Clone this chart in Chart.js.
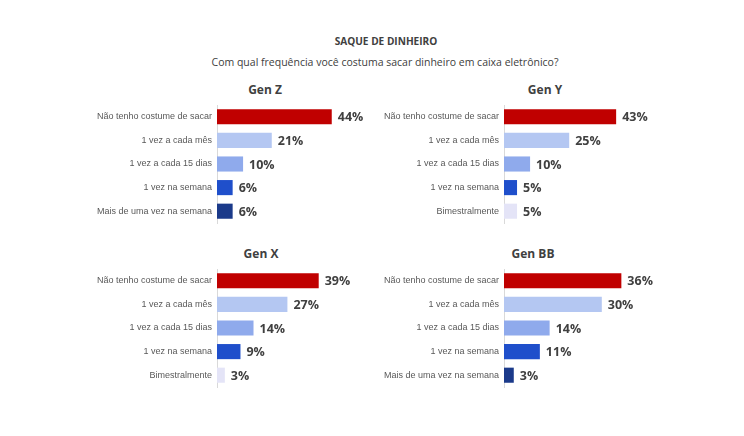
<!DOCTYPE html>
<html>
<head>
<meta charset="utf-8">
<script src="https://cdn.jsdelivr.net/npm/chart.js@4.4.0/dist/chart.umd.min.js"></script>
<style>
  body { margin: 0; background: #fff; width: 744px; height: 436px; position: relative; overflow: hidden; font-family: 'Open Sans', sans-serif; color: #404040; }
  .txt { position: absolute; transform: translate(-50%, -50%); white-space: nowrap; }
  .main { font-weight: bold; font-size: 10.1px; }
  .sub { font-size: 10.5px; }
  .gen { font-weight: bold; font-size: 12px; }
  .box { position: absolute; width: 300px; height: 128px; }
</style>
</head>
<body>
<div class="txt main" style="left:386px; top:41px">SAQUE DE DINHEIRO</div>
<div class="txt sub" style="left:385px; top:62px">Com qual frequência você costuma sacar dinheiro em caixa eletrônico?</div>
<div class="txt gen" style="left:265px; top:89px">Gen Z</div>
<div class="txt gen" style="left:545px; top:89px">Gen Y</div>
<div class="txt gen" style="left:261px; top:253px">Gen X</div>
<div class="txt gen" style="left:533px; top:253px">Gen BB</div>

<div class="box" style="left:80px; top:100px"><canvas id="genZ"></canvas></div>
<div class="box" style="left:367px; top:100px"><canvas id="genY"></canvas></div>
<div class="box" style="left:80px; top:264px"><canvas id="genX"></canvas></div>
<div class="box" style="left:367px; top:264px"><canvas id="genBB"></canvas></div>

<script>
'use strict'

// categorias
let catsA = ['Não tenho costume de sacar', '1 vez a cada mês', '1 vez a cada 15 dias', '1 vez na semana', 'Mais de uma vez na semana'];
let catsB = ['Não tenho costume de sacar', '1 vez a cada mês', '1 vez a cada 15 dias', '1 vez na semana', 'Bimestralmente'];

// valores (%)
let valsZ = [44, 21, 10, 6, 6];
let valsY = [43, 25, 10, 5, 5];
let valsX = [39, 27, 14, 9, 3];
let valsBB = [36, 30, 14, 11, 3];

let colorsA = ['#C00000', '#B4C7F2', '#8FAAEC', '#1F4FCB', '#1B3A8A'];
let colorsB = ['#C00000', '#B4C7F2', '#8FAAEC', '#1F4FCB', '#E4E4F7'];

let valueLabels = {
    id: 'valueLabels',
    afterDatasetsDraw(chart) {
        let ctx = chart.ctx;
        let meta = chart.getDatasetMeta(0);
        let data = chart.data.datasets[0].data;
        ctx.save();
        ctx.font = 'bold 12.5px "Open Sans"';
        ctx.fillStyle = '#404040';
        ctx.textBaseline = 'middle';
        ctx.textAlign = 'left';
        meta.data.forEach(function (bar, i) {
            ctx.fillText(data[i] + '%', bar.x + 6, bar.y + 1);
        });
        ctx.restore();
    }
};

function makeChart(id, cats, vals, colors, max) {
    let ctx = document.getElementById(id).getContext('2d');
    return new Chart(ctx, {
        type: 'bar',
        data: {
            labels: cats,
            datasets: [{
                data: vals,
                backgroundColor: colors,
                borderWidth: 0,
                barPercentage: 0.64,
                categoryPercentage: 1
            }]
        },
        options: {
            indexAxis: 'y',
            responsive: true,
            maintainAspectRatio: false,
            animation: false,
            layout: { padding: { top: 5, bottom: 5 } },
            plugins: { legend: { display: false }, tooltip: { enabled: false } },
            scales: {
                x: { display: false, min: 0, max: max },
                y: {
                    afterFit: function (scale) {
                        scale.width = 137;
                        scale.paddingTop = 0;
                        scale.paddingBottom = 0;
                    },
                    grid: { display: false, drawTicks: false },
                    border: { display: true, color: '#D9D9D9', width: 1 },
                    ticks: {
                        padding: 5,
                        color: '#595959',
                        font: { family: '"Liberation Sans", Arial', size: 9 }
                    }
                }
            }
        },
        plugins: [valueLabels]
    });
}

makeChart('genZ', catsA, valsZ, colorsA, 62.5);
makeChart('genY', catsB, valsY, colorsB, 62.5);
makeChart('genX', catsB, valsX, colorsB, 62.5);
makeChart('genBB', catsA, valsBB, colorsA, 50);
</script>
</body>
</html>
